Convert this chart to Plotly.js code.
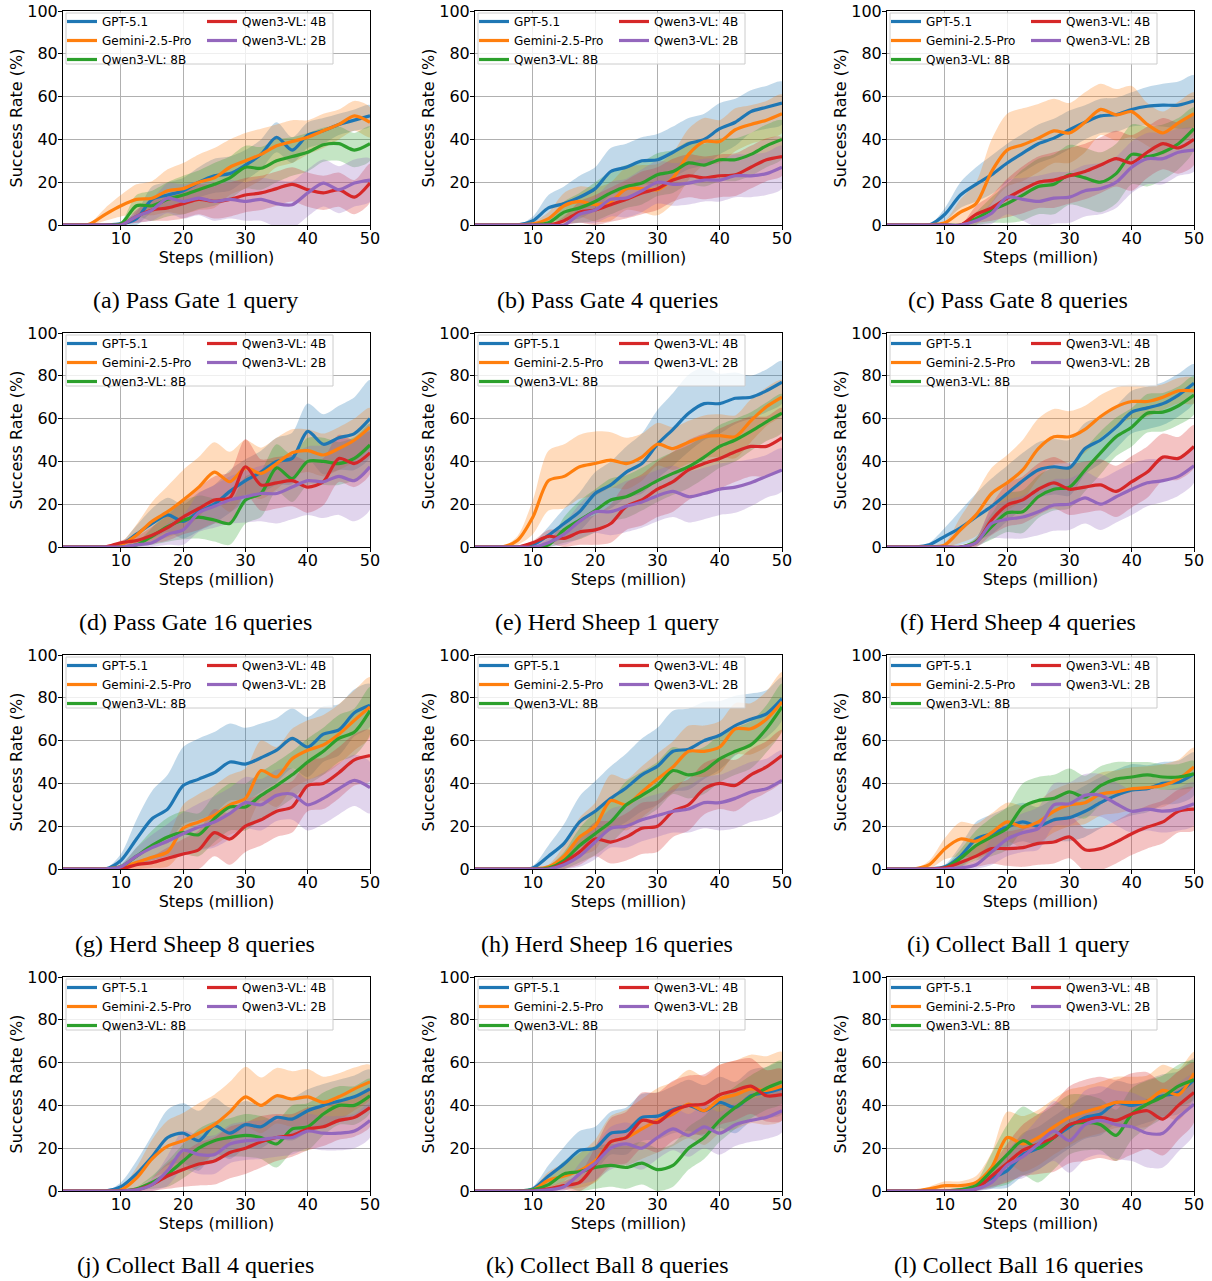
<!DOCTYPE html>
<html><head><meta charset="utf-8">
<script src="https://cdn.plot.ly/plotly-3.0.1.min.js"></script>
<style>body{margin:0;background:#fff}#chart{width:1212px;height:1281px}</style>
</head><body><div id="chart"></div>
<script>
// ---------- data ----------
const STEPS = [0.7,2.5,5,7.5,10,12.5,15,17.5,20,22.5,25,27.5,30,32.5,35,37.5,40,42.5,45,47.5,50];
const MODELS = ['GPT-5.1','Gemini-2.5-Pro','Qwen3-VL: 8B','Qwen3-VL: 4B','Qwen3-VL: 2B'];
const CAPTIONS = ['(a) Pass Gate 1 query','(b) Pass Gate 4 queries','(c) Pass Gate 8 queries',
  '(d) Pass Gate 16 queries','(e) Herd Sheep 1 query','(f) Herd Sheep 4 queries',
  '(g) Herd Sheep 8 queries','(h) Herd Sheep 16 queries','(i) Collect Ball 1 query',
  '(j) Collect Ball 4 queries','(k) Collect Ball 8 queries','(l) Collect Ball 16 queries'];
const X_TICKS = [10,20,30,40,50];
const Y_TICKS = [0,20,40,60,80,100];
const X_TITLE = 'Steps (million)';
const Y_TITLE = 'Success Rate (%)';

// order in each: GPT-5.1, Gemini-2.5-Pro, Qwen3-VL 8B, 4B, 2B
const mean_a = [
 [0,0,0,0,0.5,3,12,14,16,20,23,24,28,33,41,35,42,44,47,49,51],
 [0,0,0.5,5,9,12,12.5,16,17,20,22,27,30,33,37,39,41,44,47,51,48],
 [0,0,0,0,0.5,9,9,12,14,16.5,19,22,27,26.5,30,32,34,37.5,38,35,38],
 [0,0,0,0,0,4,7,8,10,12,11,12,14,15,17,19,16.5,15,16.5,13,19.6],
 [0,0,0,0,0,4,7,12.5,11,12.6,11,12,11,12,10,9.5,15,19.6,16.5,19.6,21]];
const sd_a = [
 [0,0,0,0,1,3,6,6,6,7,8,8,7,7,7,6,6,6,5,5,5],
 [0,0,0.5,3,5,7,8,10,12,13,14,13,13,12,10,10,8,8,7,7,7],
 [0,0,0,0,1,5,7,8,9,9,10,10,10,10,10,9,9,8,8,8,8],
 [0,0,0,0,0,3,5,6,7,7,8,8,8,8,8,8,8,8,8,8,9],
 [0,0,0,0,0,3,5,7,8,8,9,9,9,10,11,11,11,11,11,11,10]];

const mean_b = [
 [0,0,0,0,2,8,10,13,17,25,27,30,30.5,34,38,40,45,48,53,55,57],
 [0,0,0,0,0.5,3,9,11,9.5,11,17,17,16.5,22,33,39,39,44.5,47,49,52],
 [0,0,0,0,0,1,6,8,11,15,18,19.6,23.5,25,29,28,30.5,30.5,33,37,40],
 [0,0,0,0,0,0,2,6,7,9.5,12,15,17,21,23,22,23,23.5,27,30.5,32],
 [0,0,0,0,0,0,0,5,7,12,12.6,16,20,19,19.6,21,21,23,23,24,27]];
const sd_b = [
 [0,0,0,0,2,6,8,10,10,11,11,11,12,12,12,12,12,11,10,10,10],
 [0,0,0,0,1,3,6,7,8,9,10,11,12,12,12,11,10,10,9,9,9],
 [0,0,0,0,0,2,5,7,9,10,10,10,10,10,10,10,10,10,10,10,9],
 [0,0,0,0,0,0,2,5,7,8,9,10,10,10,10,10,10,10,10,10,9],
 [0,0,0,0,0,0,0,4,6,8,9,10,10,10,10,10,10,10,10,10,10]];

const mean_c = [
 [0,0,0,0,5,14,19,23.5,29,33.6,38,40.6,44.5,48,51,51.5,54,55.5,56,56,58],
 [0,0,0,0,1,6,10,25,35,37.5,40.6,44,43,48,54,51.5,53,47,43,47.7,52],
 [0,0,0,0,0,0,3,7,10,14,18,19,23.5,22,20,24,33,32,34,38,45],
 [0,0,0,0,0,0,5,8,12.6,16.5,20,21,23,25,28,31,29,34,38,36,40],
 [0,0,0,0,0,0,2,5.5,13,12,11,12.6,13,16,17,20,27,31,31,34,35]];
const sd_c = [
 [0,0,0,0,3,6,8,9,9,9,9,9,9,8,8,8,8,9,10,11,12],
 [0,0,0,0,1,6,10,15,17,17,16,15,14,14,12,12,12,10,10,10,10],
 [0,0,0,0,0,0,3,6,9,12,13,14,14,14,14,14,14,14,13,12,10],
 [0,0,0,0,0,0,4,6,9,11,12,13,13,13,13,13,13,12,12,12,12],
 [0,0,0,0,0,0,2,5,8,10,12,12,12,12,12,12,12,12,12,11,10]];

const mean_d = [
 [0,0,0,0,1,6,11,15,12,16.5,20,26,31,35,40,41.4,54,48,51,53,60],
 [0,0,0,0,1,5.5,12,16.5,22,28,35,30.5,37,34.4,39,44,45,43,46,50,56],
 [0,0,0,0,0,1,5,9.5,12.6,14,12.6,11,22,25,37,32,40,40,39,41.4,47.7],
 [0,0,0,0,2,3,5.5,9,14,18,22,23,37.5,29,30,31,28,30.5,41.4,39,44],
 [0,0,0,0,0,1,2,6,8,16,19,22,23.5,25,25,28,31,30.5,33,31,37.5]];
const sd_d = [
 [0,0,0,0,1,4,7,8,8,9,9,10,10,10,11,12,13,14,15,17,18],
 [0,0,0,0,1,5,9,12,14,14,14,14,13,12,12,11,10,10,10,10,9],
 [0,0,0,0,0,1,4,7,9,10,10,10,11,11,11,11,11,11,10,10,10],
 [0,0,0,0,1,2,4,6,8,10,11,12,13,12,12,12,12,11,11,11,10],
 [0,0,0,0,0,1,2,5,7,9,10,11,12,13,14,15,16,17,18,19,20]];

const mean_e = [
 [0,0,0,0,1,5.5,11,16.5,25,29,35,39,48,55,62.5,67,67,69.5,70,73,77],
 [0,0,0,3,14,31,33,37.5,39,40.6,39,42,48,46,49,51.5,52,51.5,59,65.5,70],
 [0,0,0,0,0,1,8,12.6,17,22,23.5,27,31,34.4,37.5,42,47,50,54,58.5,62.5],
 [0,0,0,0,2,5,4,7,8,11,19,22,27,30.5,36,39,41.4,44.5,47,47,51],
 [0,0,0,0,0,2,6,12,16.5,16.5,19,21,24,26,23.5,25,27,28,30,33,36]];
const sd_e = [
 [0,0,0,0,1,4,7,9,10,11,12,14,16,17,18,17,14,12,10,10,10],
 [0,0,0,2,8,14,15,15,15,13,12,11,10,10,10,10,10,10,10,9,8],
 [0,0,0,0,0,1,6,9,10,10,10,10,10,10,10,10,10,10,9,9,9],
 [0,0,0,0,1,3,4,6,7,9,11,12,13,14,14,14,14,14,14,14,14],
 [0,0,0,0,0,2,5,8,10,11,12,12,12,12,12,12,12,12,11,10,10]];

const mean_f = [
 [0,0,0,1,5,9,14,19,25,31,36,37.5,37,46,50,56,63,65,67,71,76.5],
 [0,0,0,0,1,8,15,25,30,36,46,51.5,51.5,55,61,65.5,68,68,70,73,73],
 [0,0,0,0,0,0,2.5,9.5,16,16.5,23.5,27,28,36,44,51.5,56,62.5,63,66,71],
 [0,0,0,0,0,0,2,12.6,19.6,22,27,30,27,28,29,26,30.5,35,42,41.4,47],
 [0,0,0,0,0,0,2,11,13,14,16.5,19.6,20,23,20,23.5,27,30,31,33,38]];
const sd_f = [
 [0,0,0,1,4,8,11,13,13,13,13,13,13,12,11,10,10,10,10,10,9],
 [0,0,0,0,1,6,10,12,13,14,14,13,12,11,10,9,8,7,6,6,6],
 [0,0,0,0,0,0,2,6,9,10,10,10,10,10,10,9,9,9,9,9,9],
 [0,0,0,0,0,0,2,7,10,11,12,12,12,12,12,12,12,12,11,10,10],
 [0,0,0,0,0,0,2,7,9,10,11,12,12,12,12,12,12,11,10,9,8]];

const mean_g = [
 [0,0,0,0,4,14,23.5,28,39,42,45,50,49,52,55.5,61,57,63,65,73,76.5],
 [0,0,0,0,1,3,5.5,8,19,22,25,30,33,46,43,51.5,55.5,58,63,69.5,75.7],
 [0,0,0,0,1,6,11,15,17,16,23.5,29,29,34.4,39,44,50,55,61,64,74],
 [0,0,0,0,0,2,3,5,7,9,17,14,20,23,27,29,39,40,45,51,53],
 [0,0,0,0,1,6,10,13,16.5,19.6,22,26,31,30,34.4,35,30,33,37.5,41.4,38]];
const sd_g = [
 [0,0,0,0,3,9,13,16,18,19,19,18,17,16,15,14,14,13,12,11,10],
 [0,0,0,0,1,3,5,7,11,13,14,14,14,14,14,14,14,14,14,14,14],
 [0,0,0,0,1,4,7,9,10,10,11,11,11,11,11,11,11,11,11,11,11],
 [0,0,0,0,0,2,3,5,7,9,11,12,12,12,12,12,12,12,12,12,12],
 [0,0,0,0,1,4,6,8,10,11,12,12,12,12,12,12,12,12,12,12,12]];

const mean_h = [
 [0,0,0,0,0.5,6,12,22,27,33,38,44,48,55,56,60,62.5,67,70,72.5,79.6],
 [0,0,0,0,0,1,6,15,20,32,30,36,42,47.7,55,55,57,65.5,65.5,70,78],
 [0,0,0,0,0,0.5,4,11,16.5,22,30,34.4,39,46,44,46,51.5,55,58,65.5,75.7],
 [0,0,0,0,0,0,3,8,14,12.6,15,19,20,27,30,37.5,40,39,44,47.7,53],
 [0,0,0,0,0,0,2,6,12.6,19,20,23,25,27,28,31,31,33,36,37.5,41.4]];
const sd_h = [
 [0,0,0,0,1,5,9,12,14,15,16,17,18,19,19,18,16,14,12,11,10],
 [0,0,0,0,0,1,5,9,11,12,12,12,12,12,12,12,12,12,12,13,14],
 [0,0,0,0,0,1,4,8,10,10,11,11,11,11,11,11,11,11,11,11,11],
 [0,0,0,0,0,0,3,6,8,10,11,12,12,12,12,12,12,12,12,12,12],
 [0,0,0,0,0,0,2,5,8,9,10,10,10,10,11,12,13,14,14,14,14]];

const mean_i = [
 [0,0,0,0,1,6,14,16.5,19.6,22,20,23,24,27,31,34.4,37,37.5,40,40.6,44.5],
 [0,0,0,2,9.5,14,13,17,22,19.6,22,27,30,31,35,36,37.5,38,39,42,47.7],
 [0,0,0,0,0.5,5,11,15,19,29,32,33,36,33.6,39,42,43,44,43,43,44.5],
 [0,0,0,0,0.5,3,6,9.5,9.5,10,12,12.6,15,9,9.5,12.6,16.5,19.6,22,27,28],
 [0,0,0,0,0,0.5,2,8,14,17,19,30,30.5,34.4,34.4,30.5,27,28,27,28,30.5]];
const sd_i = [
 [0,0,0,0,1,5,8,9,9,9,9,10,11,12,12,12,12,11,10,10,10],
 [0,0,0,2,5,8,8,9,9,10,10,10,10,10,10,10,10,10,10,9,9],
 [0,0,0,0,1,4,7,9,10,11,11,11,11,10,9,8,7,6,6,6,6],
 [0,0,0,0,1,3,5,7,8,9,10,10,10,10,10,10,10,10,10,10,10],
 [0,0,0,0,0,1,2,6,8,9,10,10,10,10,10,10,10,10,10,10,10]];

const mean_j = [
 [0,0,0,0,2,8,16,25,27,23.5,30.5,27,31,30,34.4,33.6,37.5,40,42,44,47.7],
 [0,0,0,0,0.5,6,15,21,23.5,27,31,37,44,40,44.5,43,44,41.4,44,47.7,51],
 [0,0,0,0,0,1,4,8,14,20,23.5,25,26,25,22,29,30,36,40,40,44.5],
 [0,0,0,0,0,0.5,3,7,10,12.6,14,18,20,23,25,26,29,30,33,34.4,39],
 [0,0,0,0,0,0.5,3,9.5,19,17,17,22,23.5,24,25,25,28,27,27,28,33]];
const sd_j = [
 [0,0,0,0,2,6,10,13,14,14,13,12,11,10,10,10,10,10,10,10,9],
 [0,0,0,0,1,5,9,12,13,14,14,14,14,13,13,13,13,12,11,10,8],
 [0,0,0,0,0,1,3,6,8,9,9,9,10,10,11,11,11,10,9,9,8],
 [0,0,0,0,0,1,3,6,8,10,11,12,12,12,11,10,10,9,9,9,9],
 [0,0,0,0,0,1,3,7,9,9,9,9,9,9,9,8,8,8,8,8,8]];

const mean_k = [
 [0,0,0,0,1,7,12.6,19,20,27,28,34.4,35,38,40,37.5,41.4,39,44.5,46,48],
 [0,0,0,0,0.5,5,7,9.5,14,23,25,29,33,36,40.6,37.5,43,45,47.7,47,49],
 [0,0,0,0,0.5,3,8,9,11,12,11,13,10,12,20,25,33,39,44,48,51],
 [0,0,0,0,0,1,2.5,4,12.6,23,25,33,32,37.5,40,40.6,45,47,49,44.5,45],
 [0,0,0,0,0,0.5,2,8,13,20,22,20,25,29,26,30,27,31,33,34.4,37.5]];
const sd_k = [
 [0,0,0,0,1,5,8,9,10,10,11,11,11,11,12,12,12,12,12,12,12],
 [0,0,0,0,1,4,6,8,10,12,13,14,15,15,16,16,16,16,16,16,16],
 [0,0,0,0,1,3,6,9,10,10,10,10,10,10,10,10,10,10,10,10,10],
 [0,0,0,0,0,1,2,4,8,11,12,13,14,14,14,14,14,14,13,12,12],
 [0,0,0,0,0,1,2,5,8,10,10,10,10,10,10,10,10,10,10,10,10]];

const mean_l = [
 [0,0,0,0,0,0.5,2,6,9.5,17,20,25,30,34.4,36,41.4,40,42,44.5,46,52],
 [0,0,0,1,2.5,2.5,4,11,25,22,25,30,34.4,37,39,41.4,41.4,42,47,45,55],
 [0,0,0,0,0,0.5,2.5,9.5,17,23.5,20,25,31,32,31,26,36,40.6,44,49,52],
 [0,0,0,0,0,0,1,7,13,19,22,25,31,33,34.4,33,36,37.5,33.6,40,46],
 [0,0,0,0,0,0,1,4,12,16,22,28,23.5,31,33,31,30,27,27,34.4,40.6]];
const sd_l = [
 [0,0,0,0,0,1,2,5,8,10,10,10,10,10,10,10,10,10,10,10,10],
 [0,0,0,1,2,2,3,7,12,13,13,13,13,12,12,12,12,12,12,12,10],
 [0,0,0,0,0,1,2,8,14,16,16,15,14,13,12,12,12,11,10,10,9],
 [0,0,0,0,0,0,1,5,9,12,14,16,18,19,19,19,19,18,17,16,14],
 [0,0,0,0,0,0,1,3,7,10,12,14,15,16,16,16,16,16,16,16,14]];

// ---------- styling / layout ----------
const MEANS = [mean_a,mean_b,mean_c,mean_d,mean_e,mean_f,mean_g,mean_h,mean_i,mean_j,mean_k,mean_l];
const SDS = [sd_a,sd_b,sd_c,sd_d,sd_e,sd_f,sd_g,sd_h,sd_i,sd_j,sd_k,sd_l];
const COLORS = ['#1f77b4','#ff7f0e','#2ca02c','#d62728','#9467bd'];
const FILLS = ['rgba(31,119,180,0.28)','rgba(255,127,14,0.28)','rgba(44,160,44,0.28)','rgba(214,39,40,0.28)','rgba(148,103,189,0.28)'];

const W = 1212, H = 1281;
const COLS = [[63,370],[475,782],[887,1194]];
const ROWS = [[11,225],[333,547],[655,869],[977,1191]];
const CAP_X = [195,607,1018];
const CAP_Y = [300,622,944,1265];
const FONT = 'DejaVu Sans, Verdana, sans-serif';

const traces = [];
const layout = {
  width: W, height: H, margin: {l:0,r:0,t:0,b:0},
  paper_bgcolor: '#fff', plot_bgcolor: '#fff', showlegend: true,
  font: {family: FONT, color: '#000'},
  shapes: [], annotations: []
};

for (let k = 0; k < 12; k++) {
  const r = Math.floor(k/3), c = k % 3;
  const n = k + 1, sx = n === 1 ? '' : String(n);
  const L = COLS[c][0], R = COLS[c][1], T = ROWS[r][0], B = ROWS[r][1];
  const legA = 2*k+1, legB = 2*k+2;
  const legIdA = legA === 1 ? 'legend' : 'legend' + legA;
  const legIdB = 'legend' + legB;

  // bands
  for (let m = 0; m < 5; m++) {
    const mu = MEANS[k][m], sd = SDS[k][m];
    const up = mu.map((v,i) => v + sd[i]);
    const lo = mu.map((v,i) => v - sd[i]);
    traces.push({
      type:'scatter', mode:'lines', xaxis:'x'+sx, yaxis:'y'+sx,
      x: STEPS.concat(STEPS.slice().reverse()),
      y: up.concat(lo.slice().reverse()),
      fill:'toself', fillcolor: FILLS[m], line:{width:0, shape:'spline', smoothing:0.8},
      hoverinfo:'skip', showlegend:false
    });
  }
  // mean lines
  for (let m = 0; m < 5; m++) {
    traces.push({
      type:'scatter', mode:'lines', xaxis:'x'+sx, yaxis:'y'+sx,
      x: STEPS, y: MEANS[k][m], name: MODELS[m],
      line:{color: COLORS[m], width:3.2, shape:'spline', smoothing:0.8},
      legend: m < 3 ? legIdA : legIdB, showlegend:true
    });
  }

  const axCommon = {
    ticks:'outside', ticklen:4, tickwidth:1, tickcolor:'#000',
    showline:true, linecolor:'#000', linewidth:1, mirror:true,
    showgrid:true, gridcolor:'#b0b0b0', gridwidth:1, zeroline:false,
    tickfont:{family:FONT, size:16, color:'#000'}, automargin:false, fixedrange:true
  };
  layout['xaxis'+sx] = Object.assign({}, axCommon, {
    domain:[L/W, R/W], anchor:'y'+sx, range:[0.7,50], tickmode:'array', tickvals:X_TICKS,
    ticklabelstandoff:-5,
    title:{text:X_TITLE, font:{family:FONT, size:16, color:'#000'}, standoff:0}
  });
  layout['yaxis'+sx] = Object.assign({}, axCommon, {
    domain:[1-B/H, 1-T/H], anchor:'x'+sx, range:[0,100], tickmode:'array', tickvals:Y_TICKS,
    ticklabelstandoff:-3,
    title:{text:Y_TITLE, font:{family:FONT, size:16, color:'#000'}, standoff:0}
  });

  const legCommon = {
    xanchor:'left', yanchor:'top', bgcolor:'rgba(0,0,0,0)', borderwidth:0,
    font:{family:FONT, size:12, color:'#000'}, orientation:'v', tracegroupgap:0,
    itemclick:false, itemdoubleclick:false
  };
  layout[legIdA] = Object.assign({}, legCommon, {x:(L-1)/W, y:1-(T-4)/H});
  layout[legIdB] = Object.assign({}, legCommon, {x:(L+139)/W, y:1-(T-4)/H});

  layout.shapes.push({
    type:'rect', xref:'paper', yref:'paper', layer:'above',
    x0:(L+3)/W, x1:(L+270)/W, y0:1-(T+53)/H, y1:1-(T+2)/H,
    fillcolor:'rgba(255,255,255,0.8)', line:{color:'#cccccc', width:1}
  });

  layout.annotations.push({
    text: CAPTIONS[k], xref:'paper', yref:'paper', x: CAP_X[c]/W, y: 1-CAP_Y[r]/H,
    xanchor:'center', yanchor:'middle', showarrow:false,
    font:{family:'Liberation Serif, Times New Roman, serif', size:24, color:'#000'}
  });
}

Plotly.newPlot('chart', traces, layout, {displayModeBar:false, staticPlot:true});
</script>
</body></html>
